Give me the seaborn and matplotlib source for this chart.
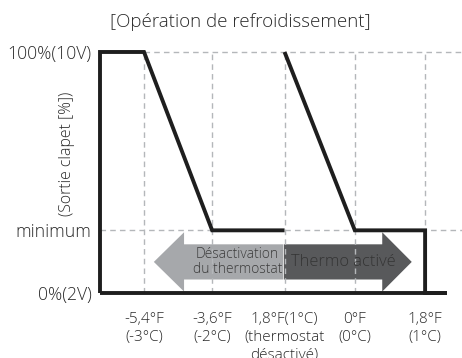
import matplotlib
matplotlib.use("Agg")
import matplotlib.pyplot as plt
from matplotlib.patches import Polygon
import seaborn as sns
import pandas as pd

sns.set_theme(style="white")
plt.rcParams["font.family"] = ["Open Sans", "DejaVu Sans"]

# Temperature thresholds (x tick positions) and their labels
x_ticks = [1.0, 1.97, 3.0, 4.0, 5.0]
x_labels = ["-5,4°F\n(-3°C)", "-3,6°F\n(-2°C)", "1,8°F(1°C)\n(thermostat\ndésactivé)",
            "0°F\n(0°C)", "1,8°F\n(1°C)"]

# Damper output levels
y_ticks = [0, 26, 100]
y_labels = ["0%(2V)", "minimum", "100%(10V)"]

# Output curve while thermostat is switching off
off_x = [0.374, 0.374, 1.0, 1.97, 3.0]
off_y = [0, 100, 100, 26, 26]
# Output curve while thermostat is active
on_x = [3.0, 4.0, 5.0, 5.0, 5.31]
on_y = [100, 26, 26, 0, 0]
# Base line at 0%
base_x = [0.374, 5.31]
base_y = [0, 0]

fig = plt.figure(figsize=(4.62, 3.58), dpi=100)
ax = fig.add_axes([100 / 462, 65 / 358, 362 / 462, 248 / 358])
ax.set_xlim(0.374, 5.525)
ax.set_ylim(0, 102.9)

grid_kw = dict(color="#b4b7ba", lw=1.0, ls=(0, (4, 3)), zorder=3)
for xt in x_ticks:
    ax.plot([xt, xt], [0, 100], **grid_kw)
ax.plot([1.0, 5.525], [100, 100], **grid_kw)
ax.plot([0.374, 5.525], [26, 26], **grid_kw)

# Direction arrows
yc, bh, hh = 12.9, 7.3, 12.3
left_arrow = Polygon([(2.98, yc + bh), (1.57, yc + bh), (1.57, yc + hh), (1.14, yc),
                      (1.57, yc - hh), (1.57, yc - bh), (2.98, yc - bh)],
                     closed=True, facecolor="#a6a8ab", edgecolor="none", zorder=2)
right_arrow = Polygon([(2.99, yc + bh), (4.39, yc + bh), (4.39, yc + hh), (4.81, yc),
                       (4.39, yc - hh), (4.39, yc - bh), (2.99, yc - bh)],
                      closed=True, facecolor="#58595b", edgecolor="none", zorder=2)
ax.add_patch(left_arrow)
ax.add_patch(right_arrow)
ax.text(2.33, yc, "Désactivation\ndu thermostat", ha="center", va="center",
        fontsize=10, color="#3c3c3c", linespacing=1.05, zorder=4, fontweight="light")
ax.text(3.84, yc, "Thermo activé", ha="center", va="center",
        fontsize=11.8, color="#343434", zorder=4, fontweight="light")

line_kw = dict(color="#1e1e1e", lw=2.8, sort=False, estimator=None, ax=ax, legend=False)
sns.lineplot(data=pd.DataFrame({"x": off_x, "y": off_y}), x="x", y="y", **line_kw)
sns.lineplot(data=pd.DataFrame({"x": on_x, "y": on_y}), x="x", y="y", **line_kw)
sns.lineplot(data=pd.DataFrame({"x": base_x, "y": base_y}), x="x", y="y", **line_kw)
for ln in ax.lines[-3:]:
    ln.set_clip_on(False)
    ln.set_zorder(5)
    ln.set_solid_joinstyle("miter")
    ln.set_solid_capstyle("butt")

for s in ax.spines.values():
    s.set_visible(False)

ax.set_xticks(x_ticks)
ax.set_xticklabels(x_labels, fontsize=11, color="#2a2a2a", linespacing=1.25, fontweight="light")
ax.set_yticks(y_ticks)
ax.set_yticklabels(y_labels, fontsize=12.7, color="#2a2a2a", fontweight="light")
ax.tick_params(axis="x", length=0, pad=14)
ax.tick_params(axis="y", length=0, pad=6)
ax.set_xlabel("")
ax.set_ylabel("(Sortie clapet [%])", fontsize=11.4, color="#2a2a2a", fontweight="light")
ax.yaxis.set_label_coords(-0.068, 0.56)

fig.text(240 / 462, 1 - 22 / 358, "[Opération de refroidissement]", ha="center", va="center",
         fontsize=13.5, color="#2a2a2a", fontweight="light")

fig.savefig("out.png", dpi=100)
